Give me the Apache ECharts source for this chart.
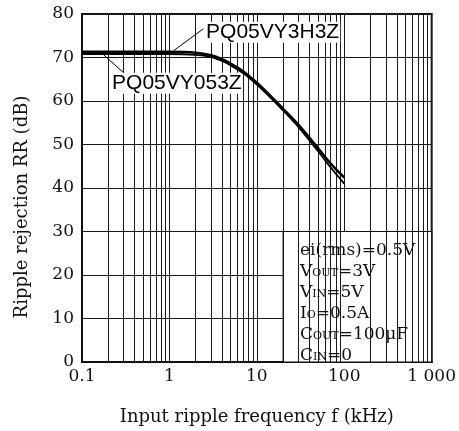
<!DOCTYPE html>
<html>
<head>
<meta charset="utf-8">
<script src="https://cdn.jsdelivr.net/npm/echarts@6/dist/echarts.min.js"></script>
<style>
html,body{margin:0;padding:0;background:#fff;}
#c{width:459px;height:431px;}
</style>
</head>
<body>
<div id="c"></div>
<script>
// ---- data ----
const freq = [0.1, 0.5, 1, 2, 3, 4, 5, 7, 10, 15, 20, 30, 50, 70, 100];
const rr3H3Z = [71.3, 71.3, 71.3, 71.1, 70.5, 69.6, 68.6, 66.8, 64.2, 60.8, 58.2, 54.5, 49.2, 45.6, 42.4];
const rr053Z = [70.8, 70.8, 70.8, 70.6, 70.1, 69.2, 68.2, 66.4, 63.8, 60.4, 57.8, 54.0, 48.5, 44.7, 41.0];
const seriesNames = ['PQ05VY3H3Z', 'PQ05VY053Z'];
const xTicks = [0.1, 1, 10, 100, 1000];
const xTickLabels = ['0.1', '1', '10', '100', '1 000'];
const minorX = [];
[0.1, 1, 10, 100].forEach(d => { for (let k = 2; k <= 9; k++) minorX.push(+(d * k).toFixed(4)); });
const condLines = [
  '{n|ei(rms)=0.5V}',
  '{n|V}{s|OUT}{n|=3V}',
  '{n|V}{s|IN}{n|=5V}',
  '{n|I}{s|O}{n|=0.5A}',
  '{n|C}{s|OUT}{n|=100μF}',
  '{n|C}{s|IN}{n|=0}'
];

const SERIF = '"DejaVu Serif", serif';
const SANS = '"Liberation Sans", Arial, sans-serif';
const GRID = '#1a1a1a';

const chart = echarts.init(document.getElementById('c'), null, {renderer: 'canvas'});

function pairs(xs, ys) { return xs.map((x, i) => [x, ys[i]]); }

const option = {
  animation: false,
  backgroundColor: '#fff',
  grid: {left: 82, right: 22, top: 14, bottom: 65, show: true, borderColor: '#111', borderWidth: 2, backgroundColor: 'transparent'},
  xAxis: {
    type: 'log', logBase: 10, min: 0.1, max: 1000,
    axisLine: {show: true, lineStyle: {color: '#111', width: 2}},
    axisTick: {show: false},
    splitLine: {show: true, lineStyle: {color: GRID, width: 1}},
    axisLabel: {
      color: '#111', fontFamily: SERIF, fontSize: 17, margin: 6,
      formatter: v => { const i = xTicks.findIndex(t => Math.abs(Math.log10(t) - Math.log10(v)) < 1e-6); return i >= 0 ? xTickLabels[i] : ''; }
    },
    name: 'Input ripple frequency f (kHz)', nameLocation: 'middle', nameGap: 46,
    nameTextStyle: {color: '#111', fontFamily: SERIF, fontSize: 18}
  },
  yAxis: {
    type: 'value', min: 0, max: 80, interval: 10,
    axisLine: {show: true, lineStyle: {color: '#111', width: 2}},
    axisTick: {show: false},
    splitLine: {show: true, lineStyle: {color: GRID, width: 1}},
    axisLabel: {color: '#111', fontFamily: SERIF, fontSize: 17, margin: 8}
  },
  series: [
    {
      type: 'line', data: [], z: 1, silent: true,
      markLine: {
        silent: true, symbol: ['none', 'none'], animation: false,
        label: {show: false},
        lineStyle: {color: GRID, width: 1, type: 'solid'},
        data: minorX.map(x => ({xAxis: x}))
      }
    },
    {
      type: 'line', data: [], z: 3, silent: true,
      markArea: {
        silent: true,
        itemStyle: {color: '#fff', borderColor: '#111', borderWidth: 1.2},
        label: {show: false},
        data: [[{coord: [20, 0]}, {coord: [1000, 30]}]]
      }
    },
    {
      name: seriesNames[0], type: 'line', data: pairs(freq, rr3H3Z), z: 5,
      smooth: 0.3, showSymbol: false, lineStyle: {color: '#000', width: 2.5},
      markLine: {
        silent: true, symbol: ['none', 'none'], label: {show: false},
        lineStyle: {color: '#000', width: 1, type: 'solid'},
        data: [[{coord: [1.12, 71.6]}, {coord: [2.45, 76.6]}]]
      },
      markPoint: {
        symbol: 'circle', symbolSize: 0,
        data: [{coord: [2.56, 75.8]}],
        label: {show: true, position: 'inside', align: 'left', verticalAlign: 'middle',
          formatter: seriesNames[0], color: '#000', fontFamily: SANS, fontSize: 21,
          backgroundColor: '#fff', padding: [0, 1]}
      }
    },
    {
      name: seriesNames[1], type: 'line', data: pairs(freq, rr053Z), z: 5,
      smooth: 0.3, showSymbol: false, lineStyle: {color: '#000', width: 1.8},
      markLine: {
        silent: true, symbol: ['none', 'none'], label: {show: false},
        lineStyle: {color: '#000', width: 1, type: 'solid'},
        data: [[{coord: [0.173, 70.8]}, {coord: [0.33, 65.7]}]]
      },
      markPoint: {
        symbol: 'circle', symbolSize: 0,
        data: [{coord: [0.215, 64.1]}],
        label: {show: true, position: 'inside', align: 'left', verticalAlign: 'middle',
          formatter: seriesNames[1], color: '#000', fontFamily: SANS, fontSize: 21,
          backgroundColor: '#fff', padding: [0, 1]}
      }
    }
  ],
  graphic: [
    {
      type: 'text', x: 22, y: 207, rotation: Math.PI / 2, z: 10,
      style: {text: 'Ripple rejection RR (dB)', fill: '#111', font: '18px ' + SERIF, align: 'center', verticalAlign: 'middle'}
    },
    {
      type: 'text', x: 300, y: 238, z: 100,
      style: {
        text: condLines.join('\n'),
        fill: '#111', font: '17px ' + SERIF, lineHeight: 21,
        rich: {
          n: {fontSize: 17, fontFamily: SERIF, fill: '#111', lineHeight: 21, verticalAlign: 'bottom'},
          s: {fontSize: 11, fontFamily: SERIF, fill: '#111', lineHeight: 21, verticalAlign: 'bottom', padding: [0, 0, 1, 0]}
        }
      }
    }
  ]
};
chart.setOption(option);
</script>
</body>
</html>
